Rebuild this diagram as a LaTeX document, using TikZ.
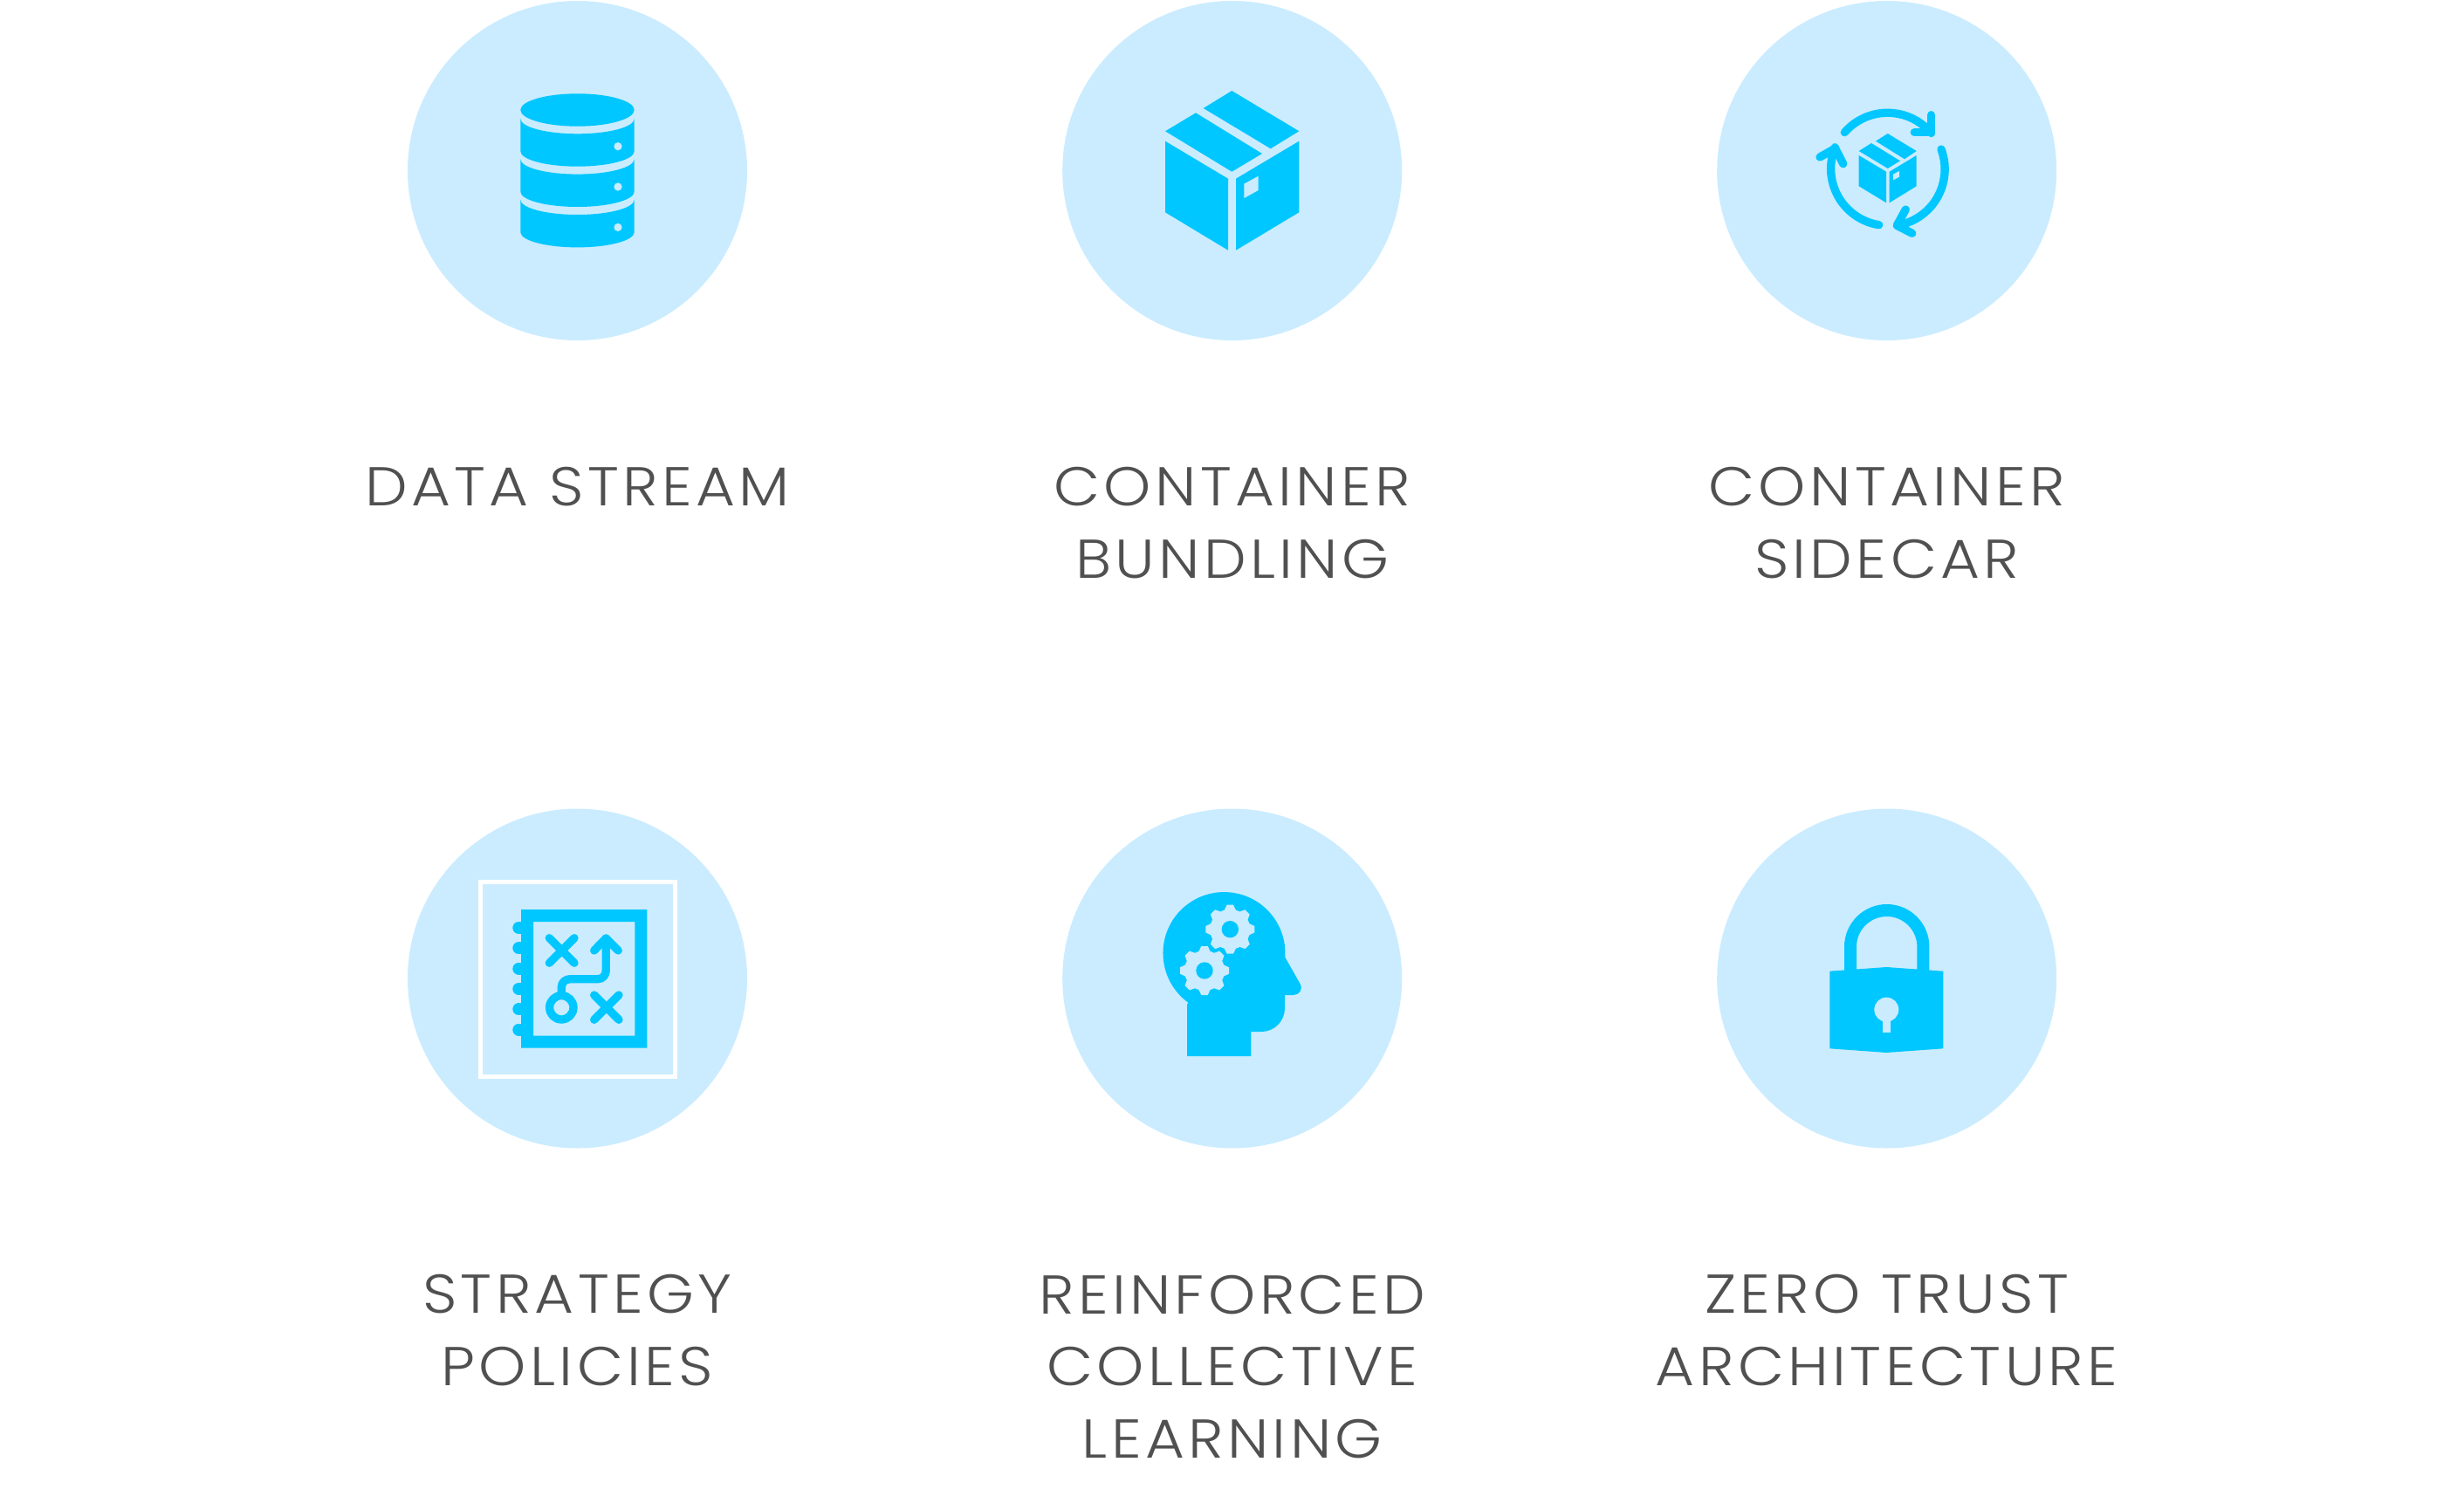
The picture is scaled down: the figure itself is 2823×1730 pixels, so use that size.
\documentclass[tikz,border=0pt]{standalone}
\usepackage{fontspec}
\setmainfont{Poppins}[UprightFont=* Light,LetterSpace=7,FakeStretch=1.1]
\definecolor{discblue}{HTML}{CBECFF}
\definecolor{iconblue}{HTML}{00C7FF}
\definecolor{labelgrey}{HTML}{505050}
\tikzset{every picture/.style={line width=0.75pt}}
\tikzset{
  disc/.style={circle,fill=discblue,draw=none,inner sep=0pt,minimum size=291.75pt},
  iconfill/.style={fill=iconblue,draw=none},
  holefill/.style={fill=discblue,draw=none},
  iconline/.style={draw=iconblue,line width=7pt,line cap=round,line join=round},
  caption/.style={anchor=base,inner sep=0pt,align=center,text=labelgrey,font=\fontsize{47}{62}\selectfont},
  gearwheel/.pic={
    \fill [holefill] (0,0) circle (23);
    \foreach \a in {0,45,...,315}{
      \fill [holefill,rotate=\a] (-7,-21) -- (-3.7,-28) -- (3.7,-28) -- (7,-21) -- cycle;
    }
    \fill [iconfill] (0,0) circle (9.7);
  }
}

\begin{document}
\begin{tikzpicture}[x=0.75pt,y=0.75pt,yscale=-1,xscale=1]
\useasboundingbox (0,0) rectangle (2823,1730);

%Shape: Circle
\node [disc] (streamdisc) at (661.5,195.5) {};
\node [disc] (bundledisc) at (1411.7,195.5) {};
\node [disc] (sidecardisc) at (2161.7,195.5) {};
\node [disc] (strategydisc) at (661.5,1121) {};
\node [disc] (learningdisc) at (1411.7,1121) {};
\node [disc] (trustdisc) at (2161.7,1121) {};

%Shape: Database
\fill [iconfill] (661.5,126) ellipse (65.2 and 18.7);
\fill [iconfill] (596.3,136) .. controls (596.3,145.6) and (625.5,153.3) .. (661.5,153.3) .. controls (697.5,153.3) and (726.7,145.6) .. (726.7,136) -- (726.7,173.3) .. controls (726.7,182.9) and (697.5,190.7) .. (661.5,190.7) .. controls (625.5,190.7) and (596.3,182.9) .. (596.3,173.3) -- cycle ;
\fill [iconfill] (596.3,182.3) .. controls (596.3,191.9) and (625.5,199.6) .. (661.5,199.6) .. controls (697.5,199.6) and (726.7,191.9) .. (726.7,182.3) -- (726.7,219.6) .. controls (726.7,229.2) and (697.5,237) .. (661.5,237) .. controls (625.5,237) and (596.3,229.2) .. (596.3,219.6) -- cycle ;
\fill [iconfill] (596.3,228.7) .. controls (596.3,238.3) and (625.5,246) .. (661.5,246) .. controls (697.5,246) and (726.7,238.3) .. (726.7,228.7) -- (726.7,266) .. controls (726.7,275.6) and (697.5,283.4) .. (661.5,283.4) .. controls (625.5,283.4) and (596.3,275.6) .. (596.3,266) -- cycle ;
\fill [holefill] (708,167.7) circle (4.6);
\fill [holefill] (708,214) circle (4.6);
\fill [holefill] (708,260.4) circle (4.6);

%Shape: Box
\fill [iconfill] (1411.3,104) -- (1488.3,150.3) -- (1455.7,170.3) -- (1378.7,124) -- cycle ;
\fill [iconfill] (1370,129.3) -- (1446,176) -- (1411.3,196.7) -- (1335,150.3) -- cycle ;
\fill [iconfill] (1335,161.7) -- (1407,204.7) -- (1407,286.7) -- (1335,243.3) -- cycle ;
\fill [iconfill] (1488.3,161.7) -- (1416,204.7) -- (1416,286.7) -- (1488.3,243.3) -- cycle ;
\fill [holefill] (1425.3,210.7) -- (1441.7,201.7) -- (1441.7,218) -- (1425.3,227) -- cycle ;

%Shape: Small box
\fill [iconfill] (2162.7,153) -- (2195.7,173) -- (2182,182.3) -- (2149,161.7) -- cycle ;
\fill [iconfill] (2144,164) -- (2177,184.3) -- (2162.7,193) -- (2129.7,173) -- cycle ;
\fill [iconfill] (2129.7,178) -- (2161,196.7) -- (2161,232.3) -- (2129.7,213.3) -- cycle ;
\fill [iconfill] (2195.7,178) -- (2164.7,196.7) -- (2164.7,232.3) -- (2195.7,213.3) -- cycle ;
\fill [holefill] (2169,199.7) -- (2176,196) -- (2176,202.7) -- (2169,206.3) -- cycle ;
%Curve Lines: cycle arrows
\draw [iconline] (2113.3,151.7) arc [start angle=-139,end angle=-40,radius=65.3] ;
\draw [iconline] (2212.7,131.7) -- (2212.7,151.7) -- (2193.3,151.7) ;
\draw [iconline] (2224,171) arc [start angle=-20.5,end angle=80.6,radius=65.3] ;
\draw [iconline] (2183.3,240) -- (2173.3,258.3) -- (2190.7,267.3) ;
\draw [iconline] (2152.7,257.7) arc [start angle=99,end angle=202,radius=65.3] ;
\draw [iconline] (2085,180) -- (2102.7,170) -- (2111.7,187.7) ;

%Shape: Notebook
\draw [white,line width=3.6pt] (550.3,1010.3) rectangle (773.5,1233.5) ;
\fill [iconfill,even odd rule] (597,1042) rectangle (741.3,1200.7) (611,1056) rectangle (727.3,1186.7) ;
\draw [iconline,line width=10.5pt] (594.3,1063) -- (600,1063) ;
\draw [iconline,line width=10.5pt] (594.3,1086.3) -- (600,1086.3) ;
\draw [iconline,line width=10.5pt] (594.3,1109.7) -- (600,1109.7) ;
\draw [iconline,line width=10.5pt] (594.3,1133) -- (600,1133) ;
\draw [iconline,line width=10.5pt] (594.3,1156.3) -- (600,1156.3) ;
\draw [iconline,line width=10.5pt] (594.3,1179.7) -- (600,1179.7) ;
\draw [iconline] (629.3,1074.7) -- (658,1103.3) (658,1074.7) -- (629.3,1103.3) ;
\draw [iconline] (680.7,1140) -- (709,1168.3) (709,1140) -- (680.7,1168.3) ;
\draw [iconline] (643.3,1154.3) circle (13.7) ;
\draw [iconline] (643.3,1136.7) -- (643.3,1131) .. controls (643.3,1125.5) and (647.8,1121.7) .. (653.3,1121.7) -- (685,1121.7) .. controls (690.5,1121.7) and (694.3,1117.2) .. (694.3,1111.7) -- (694.3,1075) ;
\draw [iconline] (680.7,1089) -- (694.3,1075) -- (708.3,1089) ;

%Shape: Head
\fill [iconfill] (1360,1210) -- (1433.3,1210) -- (1433.3,1182) -- (1445.3,1182) .. controls (1460,1182) and (1472,1170) .. (1472,1155) -- (1472,1140) -- (1481.7,1140) .. controls (1488.5,1140) and (1493.5,1133.5) .. (1489.3,1126.7) -- (1472.3,1096.7) arc [start angle=3.8,end angle=-234,radius=70] -- (1360,1151) -- cycle ;
\pic at (1409.3,1064.7) {gearwheel};
\pic at (1380,1112) {gearwheel};

%Shape: Padlock
\draw [iconline,line cap=butt,line width=10.5pt] (2120,1114) -- (2120,1084.7) arc [start angle=180,end angle=360,radius=41.7] -- (2203.4,1114) ;
\fill [iconfill] (2096.3,1112.7) -- (2161.3,1108) -- (2226.3,1112.7) -- (2226.3,1201.3) -- (2161.3,1206) -- (2096.3,1201.3) -- cycle ;
\fill [holefill] (2161.3,1156.7) circle (14) ;
\fill [holefill] (2157,1160) rectangle (2166,1182.7) ;

% Text Node
\node [caption] (streamlabel) at (661.5,579) {DATA STREAM};
\node [caption] (bundlelabel) at (1411.7,662) {CONTAINER\\BUNDLING};
\node [caption] (sidecarlabel) at (2161.7,662) {CONTAINER\\SIDECAR};
\node [caption] (strategylabel) at (661.5,1587.5) {STRATEGY\\POLICIES};
\node [caption] (learninglabel) at (1411.7,1670.5) {REINFORCED\\COLLECTIVE\\LEARNING};
\node [caption] (trustlabel) at (2161.7,1587.5) {ZERO TRUST\\ARCHITECTURE};

\end{tikzpicture}
\end{document}
